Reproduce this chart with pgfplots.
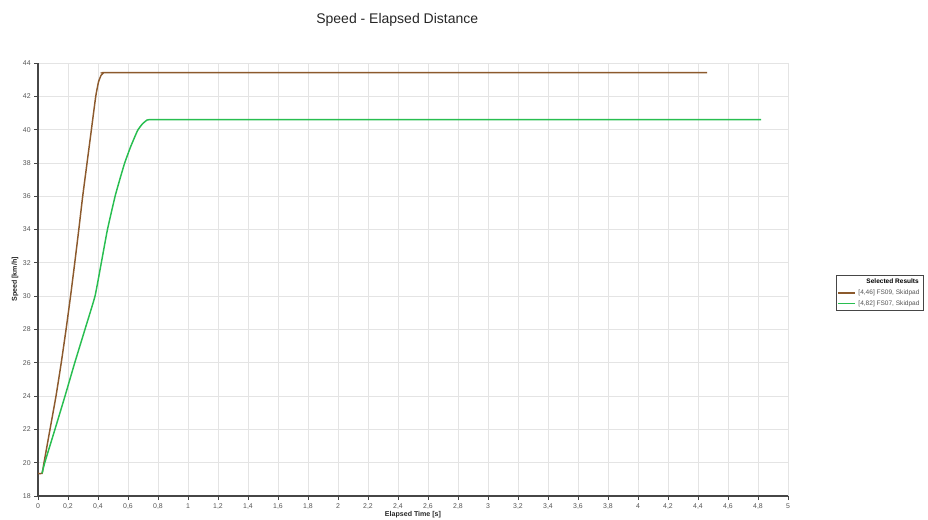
\documentclass[border=0pt]{standalone}
\usepackage{pgfplots}
\pgfplotsset{compat=1.18}
\usepackage{fontspec}
\setmainfont{Liberation Sans}
\definecolor{brownline}{RGB}{140,90,45}
\definecolor{greenline}{RGB}{40,190,80}
\definecolor{gridc}{RGB}{228,228,228}
\definecolor{axisc}{RGB}{70,70,70}
\definecolor{tickc}{RGB}{85,85,85}
\begin{document}
\begin{tikzpicture}[x=0.75pt,y=0.75pt]
\begin{axis}[
  at={(0,0)}, anchor=south west,
  scale only axis,
  width=562.5pt, height=324.75pt,
  xmin=0, xmax=5, ymin=18, ymax=44,
  xtick distance=0.2, ytick distance=2,
  grid=major,
  major grid style={draw=gridc, line width=0.6pt},
  axis x line*=bottom, axis y line*=left,
  axis line style={draw=axisc, line width=0.8pt, -},
  tick style={draw=axisc, line width=0.6pt},
  tick align=outside, major tick length=3pt,
  /pgf/number format/assume math mode=true,
  /pgf/number format/use comma,
  ticklabel style={font=\fontsize{5.2}{6}\selectfont, text=tickc},
  xticklabel style={/pgf/number format/fixed, /pgf/number format/precision=1, yshift=1pt},
  yticklabel style={xshift=1pt},
  title={Speed - Elapsed Distance},
  title style={at={(0.479,1.08)}, anchor=center, font=\fontsize{10.5}{12}\selectfont, text=black!85},
  xlabel={\textbf{Elapsed Time [s]}},
  xlabel style={at={(0.5,-0.0439)}, anchor=center, font=\fontsize{5.3}{6}\selectfont, text=black!85},
  ylabel={\textbf{Speed [km/h]}},
  ylabel style={at={(-0.0307,0.5)}, anchor=center, font=\fontsize{5.3}{6}\selectfont, text=black!85},
  legend cell align=left,
  legend style={at={(1.064,0.469)}, anchor=west, draw=axisc, line width=0.5pt,
    font=\fontsize{4.9}{5.8}\selectfont, text=tickc, inner sep=0.8pt, row sep=-1pt,
    /tikz/every even column/.append style={column sep=0.5pt}},
  legend image code/.code={\draw[#1] (0cm,0cm) -- (0.45cm,0cm);},
]
\addlegendimage{empty legend}
\addlegendentry{\hspace*{6pt}\textcolor{black}{\textbf{Selected Results}}}
\addlegendimage{brownline, line width=1pt}
\addlegendentry{[4,46] FS09, Skidpad}
\addlegendimage{greenline, line width=1pt}
\addlegendentry{[4,82] FS07, Skidpad}
\addplot[brownline, line width=1.1pt, smooth, tension=0.25, forget plot] coordinates {
 (0,19.36) (0.027,19.36) (0.04,20) (0.08,22) (0.12,24) (0.155,26) (0.187,28)
 (0.217,30) (0.245,32) (0.272,34) (0.298,36) (0.327,38) (0.356,40) (0.385,42)
 (0.403,42.85) (0.42,43.25) (0.435,43.39) (0.448,43.42) (1,43.42) (2,43.42) (3,43.42) (4.46,43.42)
};
\addplot[greenline, line width=1.1pt, smooth, tension=0.25, forget plot] coordinates {
 (0.027,19.36) (0.045,20) (0.113,22) (0.18,24) (0.245,26) (0.313,28) (0.38,30)
 (0.422,32) (0.463,34) (0.514,36) (0.547,37.06) (0.578,38) (0.617,38.96)
 (0.664,39.95) (0.695,40.33) (0.72,40.53) (0.742,40.6) (1,40.6) (2,40.6) (3,40.6) (4.82,40.6)
};
\end{axis}
\pgfresetboundingbox
\path[use as bounding box] (-38,-23) rectangle (890,496);
\end{tikzpicture}
\end{document}
